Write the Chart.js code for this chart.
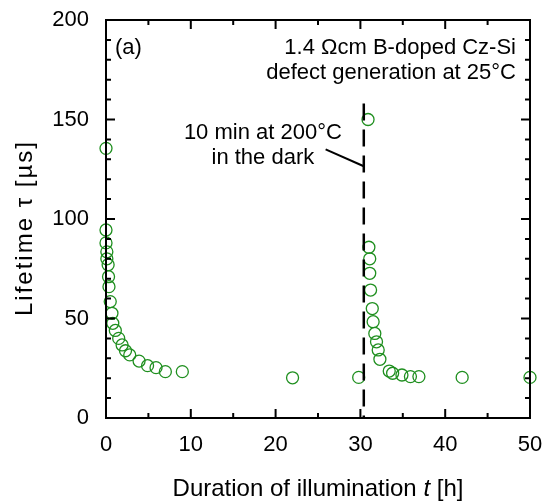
<!DOCTYPE html>
<html>
<head>
<meta charset="utf-8">
<script src="https://cdn.jsdelivr.net/npm/chart.js@4.4.1/dist/chart.umd.min.js"></script>
<style>
  body { margin: 0; background: #fff; }
</style>
</head>
<body>
<canvas id="lifetimeChart" width="544" height="502"></canvas>
<script>
// Lifetime vs. illumination time
const hours = [0, 0, 0, 0.1, 0.1, 0.25, 0.3, 0.35, 0.5, 0.7, 0.8, 1.1, 1.5, 1.9, 2.3, 2.8,
  3.9, 4.9, 5.9, 7, 9, 22, 29.8,
  30.9, 31, 31.1, 31.1, 31.2, 31.4, 31.5, 31.7, 31.9, 32.1, 32.3,
  33.4, 33.8, 34.9, 35.9, 36.9, 42, 50];
const lifetime = [135.5, 94.5, 88, 83.5, 80, 77, 71, 66, 58.5, 52.6, 47.6, 44, 40, 36.7, 33.8, 31.7,
  28.6, 26.3, 25.3, 23.3, 23.3, 20.2, 20.4,
  150, 85.8, 80, 72.7, 64.3, 55, 48.4, 42.5, 38.3, 34.2, 29.5,
  23.6, 22.5, 21.6, 20.8, 20.8, 20.4, 20.4];
const xTicks = [0, 10, 20, 30, 40, 50];
const yTicks = [0, 50, 100, 150, 200];
const annealTime = 30.4;

const points = hours.map((h, i) => ({ x: h, y: lifetime[i] }));
const FONT = "'Liberation Sans', Arial, sans-serif";

const frameAndText = {
  id: "frameAndText",
  afterDraw(chart) {
    const ctx = chart.ctx;
    const a = chart.chartArea;
    const xs = chart.scales.x;
    const ys = chart.scales.y;
    ctx.save();
    ctx.strokeStyle = "#000";
    ctx.lineWidth = 2;
    ctx.strokeRect(a.left, a.top, a.right - a.left, a.bottom - a.top);

    // inward ticks on all four sides
    ctx.beginPath();
    for (let v = 0; v <= 50; v += 5) {
      const px = xs.getPixelForValue(v);
      const len = v % 10 === 0 ? 9 : 5;
      ctx.moveTo(px, a.bottom); ctx.lineTo(px, a.bottom - len);
      ctx.moveTo(px, a.top); ctx.lineTo(px, a.top + len);
    }
    for (let v = 0; v <= 200; v += 10) {
      const py = ys.getPixelForValue(v);
      const len = v % 50 === 0 ? 9 : 5;
      ctx.moveTo(a.left, py); ctx.lineTo(a.left + len, py);
      ctx.moveTo(a.right, py); ctx.lineTo(a.right - len, py);
    }
    ctx.stroke();

    // dashed line for the dark anneal
    const dx = xs.getPixelForValue(annealTime);
    ctx.lineWidth = 2.5;
    ctx.setLineDash([17, 9]);
    ctx.beginPath();
    ctx.moveTo(dx, ys.getPixelForValue(158));
    ctx.lineTo(dx, a.bottom);
    ctx.stroke();
    ctx.setLineDash([]);

    // leader line
    ctx.lineWidth = 2;
    ctx.beginPath();
    ctx.moveTo(xs.getPixelForValue(25.9), ys.getPixelForValue(135));
    ctx.lineTo(dx, ys.getPixelForValue(126.5));
    ctx.stroke();

    ctx.fillStyle = "#000";
    ctx.font = "22px " + FONT;
    ctx.textBaseline = "alphabetic";
    ctx.textAlign = "left";
    ctx.fillText("(a)", a.left + 9, a.top + 34);
    ctx.textAlign = "right";
    ctx.fillText("1.4 \u03A9cm B-doped Cz-Si", a.right - 14, a.top + 34);
    ctx.fillText("defect generation at 25\u00B0C", a.right - 14, a.top + 59);
    ctx.textAlign = "center";
    const ax = xs.getPixelForValue(18.5);
    ctx.fillText("10 min at 200\u00B0C", ax, 139);
    ctx.fillText("in the dark", ax, 164);

    // axis titles
    const cx = (a.left + a.right) / 2;
    const p1 = "Duration of illumination ";
    const p3 = " [h]";
    ctx.font = "24px " + FONT;
    const w1 = ctx.measureText(p1).width;
    const w3 = ctx.measureText(p3).width;
    ctx.font = "italic 24px " + FONT;
    const w2 = ctx.measureText("t").width;
    const x0 = cx - (w1 + w2 + w3) / 2;
    ctx.textAlign = "left";
    ctx.font = "24px " + FONT;
    ctx.fillText(p1, x0, 496);
    ctx.font = "italic 24px " + FONT;
    ctx.fillText("t", x0 + w1, 496);
    ctx.font = "24px " + FONT;
    ctx.fillText(p3, x0 + w1 + w2, 496);

    ctx.translate(32, 228);
    ctx.rotate(-Math.PI / 2);
    ctx.textAlign = "center";
    ctx.letterSpacing = "2px";
    ctx.fillText("Lifetime \u03C4 [\u00B5s]", 0, 0);
    ctx.restore();
  },
};

const ctx = document.getElementById("lifetimeChart").getContext("2d");
const lifetimeChart = new Chart(ctx, {
  type: "scatter",
  data: {
    datasets: [
      {
        label: "Lifetime",
        data: points,
        borderColor: "#1f8f1f",
        backgroundColor: "rgba(0,0,0,0)",
        borderWidth: 1.3,
        pointRadius: 6,
        pointStyle: "circle",
        clip: false,
      },
    ],
  },
  options: {
    responsive: false,
    animation: false,
    layout: { padding: { top: 20, right: 14, left: 0, bottom: 0 } },
    plugins: { legend: { display: false }, tooltip: { enabled: false } },
    scales: {
      x: {
        type: "linear",
        min: 0,
        max: 50,
        grid: { display: false },
        border: { display: false },
        afterBuildTicks: (s) => { s.ticks = xTicks.map((v) => ({ value: v })); },
        afterFit: (s) => { s.height = 84; s.paddingLeft = 0; s.paddingRight = 0; },
        ticks: {
          color: "#000",
          padding: 6,
          maxRotation: 0,
          font: { family: FONT, size: 22 },
        },
      },
      y: {
        type: "linear",
        min: 0,
        max: 200,
        grid: { display: false },
        border: { display: false },
        afterBuildTicks: (s) => { s.ticks = yTicks.map((v) => ({ value: v })); },
        afterFit: (s) => { s.width = 106; s.paddingTop = 0; s.paddingBottom = 0; },
        ticks: {
          color: "#000",
          padding: 9,
          font: { family: FONT, size: 22 },
        },
      },
    },
  },
  plugins: [frameAndText],
});
</script>
</body>
</html>
